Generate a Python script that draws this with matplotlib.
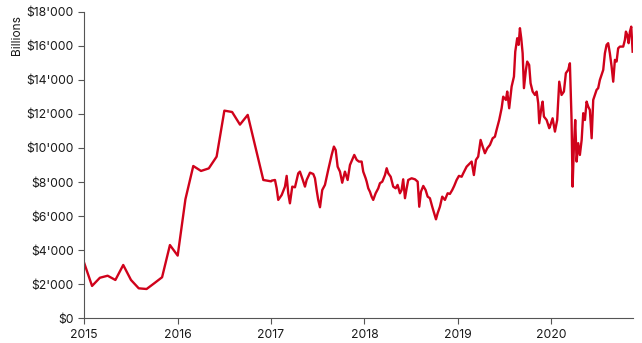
import matplotlib
matplotlib.use("Agg")
import matplotlib.pyplot as plt
from matplotlib.ticker import FuncFormatter

# Monthly readings, Jan 2015 - Jan 2017 (decimal years)
monthly_t = [2015.000, 2015.083, 2015.167, 2015.250, 2015.333, 2015.417, 2015.500,
             2015.583, 2015.667, 2015.750, 2015.833, 2015.917, 2016.000, 2016.083,
             2016.167, 2016.250, 2016.333, 2016.417, 2016.500, 2016.583, 2016.667,
             2016.750, 2016.917, 2017.000]
monthly_v = [3230, 1900, 2380, 2500, 2250, 3130, 2250,
             1760, 1720, 2060, 2410, 4300, 3680, 6990,
             8940, 8650, 8800, 9490, 12190, 12110, 11370,
             11940, 8120, 8040]

# Higher-frequency readings, 2017 - Nov 2020 (decimal years, $ billions x1000)
daily_t = [2017.006, 2017.042, 2017.060, 2017.077, 2017.114, 2017.149, 2017.167, 2017.184,
           2017.202, 2017.227, 2017.256, 2017.291, 2017.309, 2017.334, 2017.363, 2017.381,
           2017.417, 2017.452, 2017.470, 2017.488, 2017.505, 2017.524, 2017.548, 2017.577,
           2017.612, 2017.649, 2017.673, 2017.692, 2017.713, 2017.738, 2017.762, 2017.791,
           2017.820, 2017.845, 2017.869, 2017.891, 2017.917, 2017.941, 2017.970, 2017.987,
           2018.013, 2018.024, 2018.041, 2018.059, 2018.077, 2018.094, 2018.120, 2018.148,
           2018.166, 2018.191, 2018.220, 2018.238, 2018.255, 2018.281, 2018.308, 2018.334,
           2018.355, 2018.380, 2018.398, 2018.415, 2018.434, 2018.452, 2018.469, 2018.505,
           2018.541, 2018.570, 2018.587, 2018.605, 2018.630, 2018.655, 2018.677, 2018.701,
           2018.726, 2018.747, 2018.766, 2018.784, 2018.808, 2018.833, 2018.862, 2018.891,
           2018.915, 2018.940, 2018.961, 2018.987, 2019.012, 2019.041, 2019.058, 2019.094,
           2019.130, 2019.148, 2019.172, 2019.194, 2019.218, 2019.244, 2019.266, 2019.290,
           2019.315, 2019.344, 2019.373, 2019.397, 2019.415, 2019.443, 2019.469, 2019.486,
           2019.515, 2019.529, 2019.550, 2019.576, 2019.601, 2019.615, 2019.636, 2019.651,
           2019.665, 2019.679, 2019.694, 2019.708, 2019.729, 2019.743, 2019.764, 2019.779,
           2019.801, 2019.826, 2019.844, 2019.861, 2019.872, 2019.897, 2019.908, 2019.922,
           2019.951, 2019.979, 2019.986, 2020.015, 2020.040, 2020.064, 2020.086, 2020.111,
           2020.136, 2020.157, 2020.182, 2020.200, 2020.218, 2020.229, 2020.243, 2020.257,
           2020.272, 2020.289, 2020.307, 2020.326, 2020.343, 2020.361, 2020.379, 2020.396,
           2020.414, 2020.433, 2020.450, 2020.486, 2020.503, 2020.521, 2020.557, 2020.575,
           2020.593, 2020.610, 2020.628, 2020.647, 2020.664, 2020.682, 2020.700, 2020.717,
           2020.736, 2020.771, 2020.789, 2020.800, 2020.814, 2020.829, 2020.843, 2020.857,
           2020.872]
daily_v = [8080, 8120, 7630, 6950, 7240, 7730, 8360, 7340,
           6750, 7730, 7690, 8510, 8610, 8220, 7730, 8120,
           8550, 8470, 8220, 7530, 6950, 6520, 7530, 7830,
           8710, 9590, 10080, 9880, 8900, 8610, 7960, 8610,
           8120, 9000, 9300, 9590, 9300, 9200, 9200, 8610,
           8220, 8020, 7630, 7430, 7140, 6950, 7340, 7630,
           7930, 8020, 8410, 8810, 8510, 8310, 7730, 7630,
           7830, 7340, 7530, 8160, 7050, 7630, 8120, 8220,
           8160, 8020, 6550, 7430, 7770, 7530, 7140, 7050,
           6550, 6170, 5810, 6170, 6550, 7140, 6950, 7340,
           7300, 7530, 7770, 8120, 8360, 8310, 8510, 8900,
           9100, 9200, 8410, 9300, 9490, 10470, 10080, 9690,
           9980, 10180, 10570, 10660, 11060, 11640, 12330, 13010,
           12820, 13310, 12330, 13600, 14190, 15650, 16440, 16050,
           17030, 16440, 15560, 13510, 14580, 15070, 14870, 13800,
           13310, 13110, 13310, 12620, 11450, 12430, 12720, 11840,
           11640, 11160, 11250, 11740, 10960, 11640, 13890, 13110,
           13310, 14390, 14580, 14970, 11640, 7730, 10080, 11640,
           9200, 10280, 9590, 10470, 12040, 11640, 12720, 12430,
           12230, 10570, 12820, 13410, 13510, 13990, 14580, 15560,
           16050, 16150, 15560, 14770, 13890, 15170, 15070, 15850,
           15950, 15950, 16340, 16830, 16640, 16150, 16830, 17120,
           15650]

x_ticks = [2015, 2016, 2017, 2018, 2019, 2020]
y_ticks = [0, 2000, 4000, 6000, 8000, 10000, 12000, 14000, 16000, 18000]

plt.rcParams['font.family'] = ['Inter', 'DejaVu Sans']

fig = plt.figure(figsize=(6.42, 3.43), dpi=100)
ax = fig.add_axes([0.1313, 0.072, 0.8547, 0.894])

t_all = monthly_t + daily_t
v_all = monthly_v + daily_v
ax.plot(t_all, v_all, color='#d0021b', lw=1.7, solid_joinstyle='round')

ax.set_xlim(2015, 2020.876)
ax.set_ylim(0, 18000)
ax.set_xticks(x_ticks)
ax.set_xticklabels([str(x) for x in x_ticks])
ax.set_yticks(y_ticks)
ax.yaxis.set_major_formatter(FuncFormatter(lambda v, p: "$" + f"{int(v):,}".replace(",", "'")))

for s in ['top', 'right']:
    ax.spines[s].set_visible(False)
for s in ['left', 'bottom']:
    ax.spines[s].set_color('#555555')
    ax.spines[s].set_linewidth(0.8)
ax.tick_params(axis='both', colors='#555555', length=4.5, width=0.8, labelsize=8.8,
               labelcolor='#1a1a1a', pad=3)

fig.text(0.027, 0.955, 'Billions', rotation=90, ha='center', va='top',
         fontsize=8.6, color='#1a1a1a')

fig.savefig('out.png', dpi=100)
